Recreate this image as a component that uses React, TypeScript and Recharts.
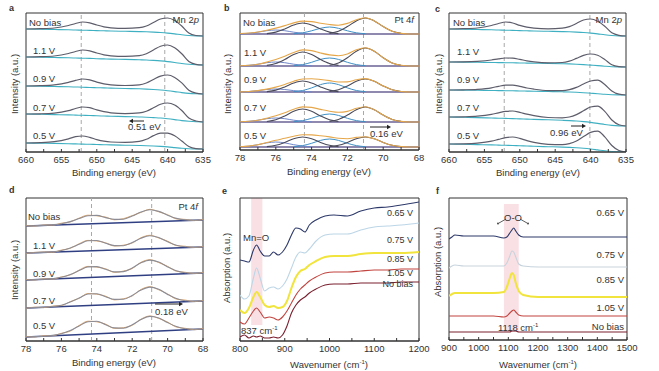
import React from "react";
import { LineChart, Line, XAxis, YAxis, ReferenceLine, ReferenceArea } from "recharts";

const FONT = '"Liberation Sans", Arial, Helvetica, sans-serif';
const INK = "#333";

const biasLabels = ["No bias", "1.1 V", "0.9 V", "0.7 V", "0.5 V"];

// ---------- a: Mn 2p (first set) ----------
const mnX = [660, 658, 656, 654, 653, 652, 651, 650, 649, 648, 646, 644, 643, 642, 641, 640, 639, 638, 637, 636, 635];
const aOffsets = [123, 95, 66, 38, 9];
const aEnvelope = [
  [0, 0.3, 1, 3.5, 5.5, 7, 6.2, 4, 2.2, 1.2, 0.6, 1.3, 3, 6.5, 10, 11, 8.5, 3, -4, -6.5, -7],
  [0, 0.3, 1, 3.5, 5.5, 7, 6.2, 4, 2.2, 1.2, 0.6, 1.4, 3.3, 7, 10.8, 12, 9.3, 3.3, -4.5, -7.3, -8],
  [0, 0.3, 1.1, 3.6, 5.6, 7, 6.1, 3.9, 2.1, 1.1, 0.5, 1.2, 3, 6.5, 9.9, 11, 8.6, 3.1, -4.3, -7.2, -8],
  [0, 0.2, 0.9, 3.4, 5.5, 7, 6.3, 4.1, 2.3, 1.2, 0.4, 1.1, 2.8, 6.2, 9.8, 11, 9, 3.5, -4, -7, -8],
  [0, 0.3, 1.3, 4.2, 6.3, 7, 5.6, 3.4, 1.8, 1, 0.6, 1.6, 3.7, 7.4, 9.8, 9.8, 7.2, 2, -3.5, -5.6, -6],
];
const aBackground = [
  [0, -0.2, -0.5, -0.8, -1, -1.2, -1.4, -1.6, -1.8, -2, -2.3, -2.6, -2.8, -3.1, -3.5, -4.1, -4.9, -5.8, -6.5, -6.9, -7],
  [0, -0.2, -0.5, -0.8, -1, -1.2, -1.4, -1.7, -1.9, -2.1, -2.4, -2.8, -3, -3.4, -3.9, -4.6, -5.5, -6.5, -7.3, -7.8, -8],
  [0, -0.2, -0.5, -0.8, -1, -1.2, -1.5, -1.7, -1.9, -2.1, -2.5, -2.8, -3.1, -3.5, -4, -4.7, -5.6, -6.6, -7.4, -7.8, -8],
  [0, -0.3, -0.6, -0.9, -1.1, -1.3, -1.5, -1.8, -2, -2.2, -2.6, -3, -3.2, -3.6, -4, -4.7, -5.6, -6.6, -7.3, -7.8, -8],
  [0, -0.2, -0.4, -0.7, -0.9, -1.1, -1.3, -1.5, -1.7, -1.9, -2.2, -2.5, -2.7, -3, -3.4, -3.9, -4.6, -5.3, -5.8, -6, -6],
];

// ---------- c: Mn 2p (second set) ----------
const cOffsets = [123, 90, 62, 35, 8];
const cEnvelope = [
  [0, 0.3, 1, 3.5, 5.5, 7, 6, 3.6, 1.8, 0.8, 0.2, 0.8, 2.4, 5.5, 9, 10, 7.8, 2.8, -3.8, -6.3, -7],
  [0, 0.1, 0.6, 2, 3.2, 4, 3.8, 2.6, 1.2, 0.2, -0.8, -0.5, 0.8, 3.6, 6.6, 8, 6.8, 2.5, -2.8, -4.6, -5],
  [0, 0.2, 0.7, 2.2, 3.7, 4.8, 4.9, 3.6, 2, 0.8, -0.6, -0.6, 0.3, 2.6, 6, 9, 9.8, 5.5, -1, -4.2, -5],
  [0, 0.2, 0.8, 2.6, 4.2, 5.6, 6, 4.6, 2.8, 1.3, -0.5, -0.8, 0, 2.4, 6.2, 10, 10.8, 5.6, -3, -7.8, -9],
  [0, 0.2, 0.9, 2.8, 4.6, 6.4, 7, 5.6, 3.4, 1.6, -0.3, -0.6, 0.4, 3, 7.4, 11.6, 12.8, 7.2, -1.5, -6.5, -8],
];
const cBackground = [
  [0, -0.2, -0.5, -0.8, -1, -1.2, -1.4, -1.6, -1.8, -2, -2.3, -2.6, -2.8, -3.1, -3.5, -4.1, -4.9, -5.8, -6.5, -6.9, -7],
  [0, -0.1, -0.3, -0.5, -0.6, -0.7, -0.8, -1, -1.1, -1.2, -1.4, -1.7, -1.9, -2.2, -2.6, -3.1, -3.6, -4.2, -4.7, -4.9, -5],
  [0, -0.1, -0.3, -0.5, -0.6, -0.7, -0.8, -1, -1.1, -1.2, -1.5, -1.8, -2, -2.3, -2.7, -3.2, -3.7, -4.3, -4.7, -4.9, -5],
  [0, -0.3, -0.6, -1, -1.2, -1.4, -1.6, -1.9, -2.1, -2.4, -2.8, -3.3, -3.6, -4, -4.6, -5.4, -6.4, -7.5, -8.4, -8.9, -9],
  [0, -0.3, -0.6, -0.9, -1.1, -1.3, -1.5, -1.8, -2, -2.3, -2.7, -3.1, -3.4, -3.8, -4.3, -5, -5.9, -6.8, -7.5, -7.9, -8],
];

// ---------- b: Pt 4f with fitted components ----------
const ptX = [78, 77.5, 77, 76.5, 76, 75.5, 75, 74.5, 74, 73.5, 73, 72.5, 72, 71.5, 71, 70.5, 70, 69.5, 69, 68.5, 68];
const bOffsets = [116, 84, 58, 28, 3];
const bEnvelope = [
  [0.5, 1, 2, 3.7, 5.9, 8.4, 11.1, 12.9, 12.4, 10.8, 9.5, 8.8, 10.6, 14.3, 16.3, 13.1, 7.4, 2.7, 0.6, 0, 0],
  [0.2, 0.7, 1.8, 3.9, 6.4, 9.7, 13.6, 16.1, 15.4, 13, 11.1, 10.3, 12, 16.2, 18.3, 14.8, 8.3, 3.1, 0.7, 0, 0],
  [0.1, 0.5, 1.4, 2.9, 4.9, 7.6, 10.8, 13, 13.2, 12.5, 11.4, 10, 10.1, 12.2, 13.4, 10.7, 6, 2.2, 0.5, 0, 0],
  [0.2, 0.7, 1.8, 3.8, 6.2, 9.3, 12.8, 15.1, 14.6, 12.6, 10.8, 9.7, 10.6, 13.7, 15.3, 12.3, 6.9, 2.6, 0.6, 0, 0],
  [0.2, 0.9, 2.3, 4.5, 6.7, 8.7, 10.8, 12.3, 12.1, 11.2, 10.1, 8.7, 8.3, 9.6, 10.3, 8.2, 4.6, 1.7, 0.4, 0, 0],
];
const peakAX = [73, 72.5, 72, 71.5, 71, 70.5, 70, 69.5, 69];
const peakBX = [76.5, 76, 75.5, 75, 74.5, 74, 73.5, 73, 72.5];
const peakCX = [75, 74.5, 74, 73.5, 73, 72.5, 72, 71.5, 71];
const peakDX = [78, 77.5, 77, 76.5, 76, 75.5, 75, 74.5, 74];
const peakA = [
  [0.6, 2.7, 7.4, 13.1, 16, 13.1, 7.4, 2.7, 0.6],
  [0.7, 3.1, 8.3, 14.8, 18, 14.8, 8.3, 3.1, 0.7],
  [0.5, 2.2, 6, 10.7, 13, 10.7, 6, 2.2, 0.5],
  [0.6, 2.6, 6.9, 12.3, 15, 12.3, 6.9, 2.6, 0.6],
  [0.4, 1.7, 4.6, 8.2, 10, 8.2, 4.6, 1.7, 0.4],
];
const peakB = [
  [0.4, 1.9, 5.1, 9, 11, 9, 5.1, 1.9, 0.4],
  [0.6, 2.4, 6.4, 11.5, 14, 11.5, 6.4, 2.4, 0.6],
  [0.4, 1.9, 5.1, 9, 11, 9, 5.1, 1.9, 0.4],
  [0.5, 2.2, 6, 10.7, 13, 10.7, 6, 2.2, 0.5],
  [0.4, 1.7, 4.6, 8.2, 10, 8.2, 4.6, 1.7, 0.4],
];
const peakC = [
  [0.3, 1.2, 3.2, 5.7, 7, 5.7, 3.2, 1.2, 0.3],
  [0.3, 1.4, 3.7, 6.6, 8, 6.6, 3.7, 1.4, 0.3],
  [0.4, 1.5, 4.1, 7.4, 9, 7.4, 4.1, 1.5, 0.4],
  [0.3, 1.4, 3.7, 6.6, 8, 6.6, 3.7, 1.4, 0.3],
  [0.3, 1.4, 3.7, 6.6, 8, 6.6, 3.7, 1.4, 0.3],
];
const peakD = [
  [0.2, 0.7, 1.8, 3.3, 4, 3.3, 1.8, 0.7, 0.2],
  [0.2, 0.7, 1.8, 3.3, 4, 3.3, 1.8, 0.7, 0.2],
  [0.1, 0.5, 1.4, 2.5, 3, 2.5, 1.4, 0.5, 0.1],
  [0.2, 0.7, 1.8, 3.3, 4, 3.3, 1.8, 0.7, 0.2],
  [0.2, 0.9, 2.3, 4.1, 5, 4.1, 2.3, 0.9, 0.2],
];

// ---------- d: Pt 4f raw + fit ----------
const dOffsets = [115, 88, 61, 33, 4];
const dBaseEnd = [6, 6, 7, 7, 8];
const dFit = [
  [0, 0.3, 0.6, 1.2, 2.2, 4.4, 7.4, 10.3, 10.6, 8.4, 6.6, 6.8, 9.9, 14, 16.2, 14.6, 10.8, 7.6, 6.1, 5.8, 6],
  [0, 0.3, 0.6, 1.2, 2.5, 5.1, 8.7, 12.2, 12.5, 9.7, 7.4, 7.3, 10.4, 14.8, 17.2, 15.4, 11.3, 7.8, 6.2, 5.8, 6],
  [0, 0.4, 0.7, 1.4, 2.7, 5.5, 9.4, 13.1, 13.4, 10.7, 8.1, 8.4, 12, 17.2, 19.9, 17.9, 13.1, 9.2, 7.2, 6.9, 7],
  [0, 0.4, 0.7, 1.5, 2.8, 5.9, 10, 14, 14.3, 11.3, 8.6, 8.7, 12.6, 18, 20.9, 18.7, 13.6, 9.4, 7.3, 6.9, 7],
  [0, 0.4, 0.8, 1.6, 3.2, 6.4, 11, 15.3, 15.7, 12.3, 9.1, 8.8, 12.2, 17.4, 20.6, 19.1, 14.4, 10.4, 8.2, 7.8, 8],
];
const dRaw = [
  [0.3, 0, 1, 0.9, 2.8, 4.1, 7.9, 10.8, 10.2, 8.9, 6.2, 7.3, 10.4, 13.6, 16.7, 14.2, 11.3, 7.1, 6.6, 5.4, 6.5],
  [-0.3, 0.6, 0.9, 0.8, 2.9, 4.7, 9.2, 12.6, 12, 10.2, 7, 7.8, 10, 15.3, 17.7, 15, 11.8, 7.4, 6.7, 5.5, 6.4],
  [0.5, 0.1, 1.1, 1, 3.1, 5.1, 9.9, 13.6, 12.9, 11.2, 7.6, 8.9, 11.5, 17.7, 20.3, 17.4, 13.6, 8.7, 7.7, 6.5, 7.6],
  [-0.2, 0.8, 0.4, 1.9, 2.4, 6.4, 9.6, 14.5, 13.8, 11.8, 8.1, 9.2, 12.1, 18.5, 21.3, 18.2, 14.1, 8.9, 7.9, 6.4, 7.5],
  [0.4, 0.1, 1.2, 1.3, 3.7, 5.9, 11.5, 15.8, 15.2, 12.8, 8.6, 9.3, 11.7, 17.9, 21, 18.6, 14.9, 9.9, 8.7, 7.3, 8.5],
];

// ---------- e: IR 800-1200 ----------
const irLabels = ["0.65 V", "0.75 V", "0.85 V", "1.05 V", "No bias"];
const irColors = ["#2c3869", "#bcd6e6", "#f1e43c", "#c1443f", "#7a1f2e"];
const eX = [800, 810, 820, 830, 837, 845, 855, 865, 875, 885, 895, 905, 915, 925, 935, 945, 955, 970, 990, 1010, 1040, 1070, 1100, 1130, 1160, 1200];
const eSpectra = [
  [81, 80, 79, 91, 96, 90, 85, 85, 89, 86, 89, 96, 106, 113, 112, 109, 116, 121, 125, 126, 125, 130, 133, 134, 136, 139],
  [46, 42, 45, 63, 73, 63, 50, 53, 54, 52, 55, 62, 73, 84, 89, 88, 92, 100, 106, 107, 107, 111, 114, 115, 116, 118],
  [31, 28, 33, 44, 49, 44, 36, 34, 35, 33, 34, 40, 53, 64, 70, 72, 76, 80, 84, 85, 85, 87, 88, 88, 88, 89],
  [19, 17, 23, 30, 33, 29, 23, 24, 23, 21, 24, 30, 38, 46, 52, 56, 60, 64, 68, 69, 69, 70, 71, 71, 72, 72],
  [4, 6, 3, 5, 4, 5, 3, 3, 4, 3, 6, 15, 28, 36, 41, 44, 48, 52, 56, 57, 57, 58, 58, 58, 59, 59],
];

// ---------- f: IR 900-1500 ----------
const fColors = ["#2c3869", "#c7d3dc", "#f1e43c", "#c1443f", "#7a1f2e"];
const fX = [900, 910, 920, 950, 1000, 1050, 1085, 1095, 1105, 1112, 1118, 1125, 1135, 1150, 1200, 1300, 1400, 1500];
const fSpectra = [
  [101, 103, 105, 104, 104, 104, 102, 103, 107, 110, 112, 109, 105, 103, 103, 103, 103, 103],
  [72, 74, 75, 74, 74, 74, 74, 77, 84, 89, 88, 83, 76, 74, 73, 73, 73, 73],
  [44, 46, 47, 47, 47, 47, 48, 53, 62, 67, 65, 57, 49, 45, 43, 43, 43, 43],
  [24, 24, 24, 24, 24, 24, 23, 24, 27, 29, 30, 28, 25, 24, 24, 24, 24, 24],
  [8, 8, 8, 8, 8, 8, 8, 8, 8, 9, 9, 9, 8, 8, 8, 8, 8, 8],
];

type Pt = { x: number; y: number };
type Series = { pts: Pt[]; color: string; width?: number };

const pts = (xs: number[], ys: number[], off = 0): Pt[] => xs.map((x, i) => ({ x, y: ys[i] + off }));

type PanelProps = {
  box: [number, number, number, number];
  domain: [number, number];
  reversed?: boolean;
  ticks: number[];
  labelled: number[];
  series: Series[];
  vlines?: number[];
  band?: [number, number, number, number];
};

function Panel({ box, domain, reversed, ticks, labelled, series, vlines = [], band }: PanelProps) {
  const [x0, y0, x1, y1] = box;
  const pad = 12;
  const H = y1 - y0;
  return (
    <div style={{ position: "absolute", left: x0 - pad, top: y0 - pad }}>
      <LineChart width={x1 - x0 + pad * 2} height={H + pad + 22} margin={{ top: pad, right: pad, left: pad, bottom: 2 }}>
        <XAxis
          dataKey="x"
          type="number"
          domain={domain}
          reversed={reversed}
          allowDataOverflow
          ticks={ticks}
          interval={0}
          height={20}
          tickSize={-3}
          tickMargin={7}
          stroke={INK}
          tickFormatter={(v: number) => (labelled.includes(v) ? String(v) : "")}
          tick={{ fontSize: 9.5, fill: INK, fontFamily: FONT }}
        />
        <YAxis hide type="number" domain={[0, H]} allowDataOverflow />
        {band && (
          <ReferenceArea x1={band[0]} x2={band[1]} y1={band[2]} y2={band[3]} fill="#f3c6cf" fillOpacity={0.55} stroke="none" />
        )}
        <ReferenceArea x1={domain[0]} x2={domain[1]} y1={0} y2={H} fill="none" stroke={INK} strokeWidth={1} strokeOpacity={1} />
        {vlines.map((v) => (
          <ReferenceLine key={v} x={v} stroke="#a8a8a8" strokeDasharray="4 3" />
        ))}
        {series.map((s, i) => (
          <Line
            key={i}
            data={s.pts}
            dataKey="y"
            type="monotone"
            dot={false}
            activeDot={false}
            stroke={s.color}
            strokeWidth={s.width ?? 1}
            isAnimationActive={false}
          />
        ))}
      </LineChart>
    </div>
  );
}

type TxtProps = { x: number; y: number; children: React.ReactNode; size?: number; anchor?: "start" | "middle" | "end"; bold?: boolean; rotate?: boolean };
function Txt({ x, y, children, size = 9.5, anchor = "start", bold, rotate }: TxtProps) {
  const tx = anchor === "start" ? "0" : anchor === "middle" ? "-50%" : "-100%";
  return (
    <div
      style={{
        position: "absolute",
        left: x,
        top: y,
        transform: rotate ? "translate(-50%,-50%) rotate(-90deg)" : `translate(${tx},-50%)`,
        fontSize: size,
        fontWeight: bold ? 700 : 400,
        whiteSpace: "nowrap",
        lineHeight: 1,
        color: INK,
      }}
    >
      {children}
    </div>
  );
}

function Arrow({ x0, x1, y }: { x0: number; x1: number; y: number }) {
  const left = Math.min(x0, x1) - 2;
  const w = Math.abs(x1 - x0) + 4;
  const dir = x1 > x0 ? 1 : -1;
  const hx = x1 - left;
  return (
    <svg style={{ position: "absolute", left, top: y - 3 }} width={w} height={6}>
      <line x1={x0 - left} y1={3} x2={hx - dir * 3} y2={3} stroke="#222" strokeWidth={1} />
      <polygon points={`${hx},3 ${hx - dir * 4},0.8 ${hx - dir * 4},5.2`} fill="#222" />
    </svg>
  );
}

const mnTicks = [660, 657.5, 655, 652.5, 650, 647.5, 645, 642.5, 640, 637.5, 635];
const mnMajor = [660, 655, 650, 645, 640, 635];
const ptTicks = [78, 77, 76, 75, 74, 73, 72, 71, 70, 69, 68];
const ptMajor = [78, 76, 74, 72, 70, 68];
const eTicks = [800, 850, 900, 950, 1000, 1050, 1100, 1150, 1200];
const eMajor = [800, 900, 1000, 1100, 1200];
const fTicks = [900, 950, 1000, 1050, 1100, 1150, 1200, 1250, 1300, 1350, 1400, 1450, 1500];
const fMajor = [900, 1000, 1100, 1200, 1300, 1400, 1500];

const mnSeries = (env: number[][], bg: number[][], offs: number[]): Series[] =>
  offs.flatMap((o, i) => [
    { pts: pts(mnX, bg[i], o), color: "#3fb0c2", width: 1.1 },
    { pts: pts(mnX, env[i], o), color: "#5d5d6b", width: 1.2 },
  ]);

const bSeries: Series[] = bOffsets.flatMap((o, i) => [
  { pts: pts([78, 68], [0, 0], o), color: "#6a6294", width: 1.6 },
  { pts: pts(peakDX, peakD[i], o), color: "#6f86c8", width: 1 },
  { pts: pts(peakCX, peakC[i], o), color: "#3f8fc4", width: 1 },
  { pts: pts(peakBX, peakB[i], o), color: "#4a4a5a", width: 1.1 },
  { pts: pts(peakAX, peakA[i], o), color: "#4a4a5a", width: 1.1 },
  { pts: pts(ptX, bEnvelope[i], o), color: "#e6a74a", width: 1.1 },
]);

const dSeries: Series[] = dOffsets.flatMap((o, i) => [
  { pts: pts([78, 68], [0, dBaseEnd[i]], o), color: "#2f3f82", width: 1.5 },
  { pts: pts(ptX, dRaw[i], o), color: "#e3a868", width: 1 },
  { pts: pts(ptX, dFit[i], o), color: "#8c8c96", width: 1.1 },
]);

const eSeries: Series[] = eSpectra.map((ys, i) => ({ pts: pts(eX, ys), color: irColors[i], width: i === 2 ? 2 : 1.1 }));
const fSeries: Series[] = fSpectra.map((ys, i) => ({ pts: pts(fX, ys), color: fColors[i], width: i === 2 ? 2 : 1.1 }));

const labelYs = {
  a: [23, 51, 79, 108, 136],
  b: [23, 53, 80, 108, 136],
  c: [23, 52, 80, 108, 136],
  d: [217, 246, 274, 301, 326],
  e: [213, 240, 259, 273, 284],
  f: [213, 255, 280, 308, 327],
};

export default function App() {
  return (
    <div style={{ position: "absolute", left: 0, top: 0, width: 659, height: 371, background: "#fff", fontFamily: FONT, overflow: "hidden" }}>
      <Panel box={[26, 13, 203, 152]} domain={[635, 660]} reversed ticks={mnTicks} labelled={mnMajor} series={mnSeries(aEnvelope, aBackground, aOffsets)} vlines={[652.2, 640.4]} />
      <Panel box={[240, 13, 419, 150]} domain={[68, 78]} reversed ticks={ptTicks} labelled={ptMajor} series={bSeries} vlines={[74.4, 71.1]} />
      <Panel box={[449, 13, 626, 152]} domain={[635, 660]} reversed ticks={mnTicks} labelled={mnMajor} series={mnSeries(cEnvelope, cBackground, cOffsets)} vlines={[652.2, 640.1]} />
      <Panel box={[26, 198, 203, 341]} domain={[68, 78]} reversed ticks={ptTicks} labelled={ptMajor} series={dSeries} vlines={[74.3, 70.9]} />
      <Panel box={[240, 198, 419, 341]} domain={[800, 1200]} ticks={eTicks} labelled={eMajor} series={eSeries} band={[825, 850, 16, 143]} />
      <Panel box={[449, 198, 627, 340]} domain={[900, 1500]} ticks={fTicks} labelled={fMajor} series={fSeries} band={[1085, 1135, 8, 136]} />

      {/* panel letters */}
      <Txt x={9} y={8} bold size={9}>a</Txt>
      <Txt x={224} y={8} bold size={9}>b</Txt>
      <Txt x={435} y={9} bold size={9}>c</Txt>
      <Txt x={9} y={190} bold size={9}>d</Txt>
      <Txt x={222} y={191} bold size={9}>e</Txt>
      <Txt x={436} y={191} bold size={9}>f</Txt>

      {/* axis titles */}
      <Txt x={15} y={84} rotate>Intensity (a.u.)</Txt>
      <Txt x={228} y={84} rotate>Intensity (a.u.)</Txt>
      <Txt x={439} y={84} rotate>Intensity (a.u.)</Txt>
      <Txt x={15} y={270} rotate>Intensity (a.u.)</Txt>
      <Txt x={227} y={268} rotate>Absorption (a.u.)</Txt>
      <Txt x={438} y={262} rotate>Absorption (a.u.)</Txt>
      <Txt x={114} y={173} anchor="middle">Binding energy (eV)</Txt>
      <Txt x={329} y={172} anchor="middle">Binding energy (eV)</Txt>
      <Txt x={538} y={173} anchor="middle">Binding energy (eV)</Txt>
      <Txt x={114} y={363} anchor="middle">Binding energy (eV)</Txt>
      <Txt x={329} y={364} anchor="middle">Wavenumer (cm<sup style={{ fontSize: 6 }}>-1</sup>)</Txt>
      <Txt x={538} y={364} anchor="middle">Wavenumer (cm<sup style={{ fontSize: 6 }}>-1</sup>)</Txt>

      {/* element labels */}
      <Txt x={199} y={20} anchor="end">Mn 2<i>p</i></Txt>
      <Txt x={414} y={20} anchor="end">Pt 4<i>f</i></Txt>
      <Txt x={622} y={20} anchor="end">Mn 2<i>p</i></Txt>
      <Txt x={198} y={207} anchor="end">Pt 4<i>f</i></Txt>

      {/* bias labels */}
      {biasLabels.map((l, i) => (
        <React.Fragment key={l}>
          <Txt x={i === 0 ? 29 : 33} y={labelYs.a[i]}>{l}</Txt>
          <Txt x={i === 0 ? 243 : 244} y={labelYs.b[i]}>{l}</Txt>
          <Txt x={i === 0 ? 453 : 457} y={labelYs.c[i]}>{l}</Txt>
          <Txt x={i === 0 ? 28 : 33} y={labelYs.d[i]}>{l}</Txt>
        </React.Fragment>
      ))}
      {irLabels.map((l, i) => (
        <React.Fragment key={l}>
          <Txt x={413} y={labelYs.e[i]} anchor="end" size={9}>{l}</Txt>
          <Txt x={624} y={labelYs.f[i]} anchor="end">{l}</Txt>
        </React.Fragment>
      ))}

      {/* shift annotations */}
      <Arrow x0={144} x1={129} y={121} />
      <Txt x={128} y={127}>0.51 eV</Txt>
      <Arrow x0={370} x1={391} y={127} />
      <Txt x={370} y={134}>0.16 eV</Txt>
      <Arrow x0={571} x1={586} y={126} />
      <Txt x={550} y={133}>0.96 eV</Txt>
      <Arrow x0={155} x1={183} y={304} />
      <Txt x={155} y={312}>0.18 eV</Txt>

      {/* IR annotations */}
      <Txt x={243} y={238}>Mn=O</Txt>
      <Txt x={241} y={330}>837 cm<sup style={{ fontSize: 6 }}>-1</sup></Txt>
      <Txt x={498} y={327}>1118 cm<sup style={{ fontSize: 6 }}>-1</sup></Txt>
      <svg style={{ position: "absolute", left: 494, top: 211 }} width={38} height={16}>
        <text x={19} y={10} textAnchor="middle" fontSize={9.5} fill={INK} fontFamily={FONT}>O-O</text>
        <line x1={12} y1={8} x2={5} y2={12} stroke={INK} strokeWidth={0.8} />
        <line x1={26} y1={8} x2={33} y2={12} stroke={INK} strokeWidth={0.8} />
        <circle cx={4} cy={12.5} r={0.9} fill={INK} />
        <circle cx={34} cy={12.5} r={0.9} fill={INK} />
      </svg>
    </div>
  );
}
